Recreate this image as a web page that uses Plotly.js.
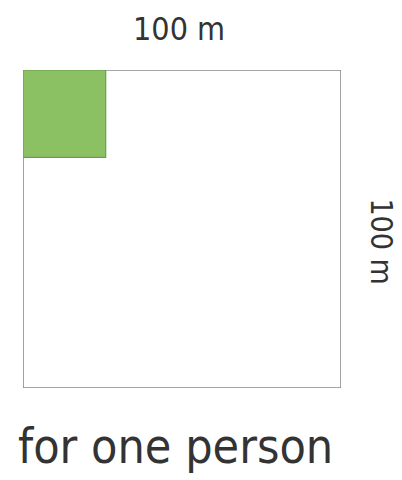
<!DOCTYPE html>
<html>
<head>
<meta charset="utf-8">
<script src="https://cdn.plot.ly/plotly-3.0.1.min.js"></script>
<style>html,body{margin:0;padding:0;background:#fff;}#chart{width:402px;height:480px;}</style>
</head>
<body>
<div id="chart"></div>
<script>
// Data
var fieldSide = 100;          // metres, side of the large square
var personWidth = 26;         // metres, green area width
var personHeight = 27.5;      // metres, green area height
var topLabel = "100 m";
var sideLabel = "100 m";
var caption = "for one person";

var fontFam = "'DejaVu Sans Condensed', 'Liberation Sans Narrow', 'DejaVu Sans', sans-serif";

var outline = {
  type: 'scatter', mode: 'lines',
  x: [0, fieldSide, fieldSide, 0, 0],
  y: [0, 0, fieldSide, fieldSide, 0],
  line: {color: '#8a8a8a', width: 1.6},
  cliponaxis: false, hoverinfo: 'skip', showlegend: false
};
var person = {
  type: 'scatter', mode: 'lines',
  x: [0, personWidth, personWidth, 0, 0],
  y: [0, 0, personHeight, personHeight, 0],
  fill: 'toself', fillcolor: '#8cc163',
  line: {color: '#6a9e4c', width: 1.2},
  cliponaxis: false, hoverinfo: 'skip', showlegend: false
};

var layout = {
  width: 402, height: 480,
  margin: {l: 23, r: 61, t: 70, b: 92},
  paper_bgcolor: '#fff', plot_bgcolor: '#fff',
  xaxis: {range: [0, fieldSide], visible: false, fixedrange: true},
  yaxis: {range: [fieldSide, 0], visible: false, fixedrange: true},
  showlegend: false,
  annotations: [
    {text: topLabel, xref: 'paper', yref: 'paper', x: 0.49, y: 1.129,
     xanchor: 'center', yanchor: 'middle', showarrow: false,
     font: {family: fontFam, size: 32, color: '#333'}},
    {text: sideLabel, xref: 'paper', yref: 'paper', x: 1.128, y: 0.462,
     xanchor: 'center', yanchor: 'middle', showarrow: false, textangle: 90,
     font: {family: fontFam, size: 30, color: '#333'}},
    {text: caption, xref: 'paper', yref: 'paper', x: 0.481, y: -0.183,
     xanchor: 'center', yanchor: 'middle', showarrow: false,
     font: {family: fontFam, size: 48, color: '#333'}}
  ]
};

Plotly.newPlot('chart', [outline, person], layout, {displayModeBar: false, staticPlot: true});
</script>
</body>
</html>
